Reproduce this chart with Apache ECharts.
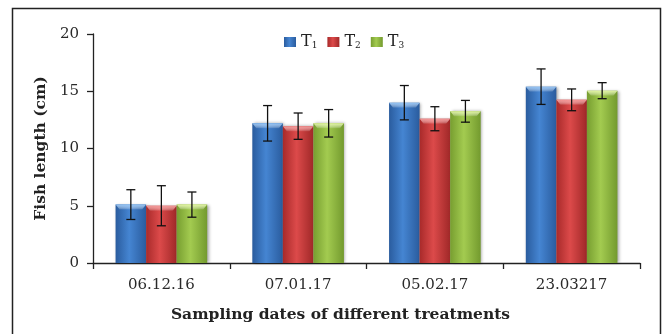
<!DOCTYPE html>
<html><head><meta charset="utf-8">
<script src="https://cdn.jsdelivr.net/npm/echarts@6/dist/echarts.min.js"></script>
<style>html,body{margin:0;padding:0;background:#fff}#c{width:664px;height:334px}</style>
</head><body><div id="c"></div>
<script>
var categories = ['06.12.16', '07.01.17', '05.02.17', '23.03217'];
var seriesNames = ['T1', 'T2', 'T3'];
var t1 = [5.1, 12.2, 14.0, 15.4];
var t2 = [5.0, 11.95, 12.6, 14.25];
var t3 = [5.1, 12.2, 13.25, 15.05];
var t1Err = [1.3, 1.55, 1.5, 1.55];
var t2Err = [1.75, 1.15, 1.05, 0.95];
var t3Err = [1.1, 1.2, 0.95, 0.7];
var yTicks = [0, 5, 10, 15, 20];

var values = [t1, t2, t3];
var errs = [t1Err, t2Err, t3Err];
var colors = [
  ['#2a5c9e', '#4585d2', '#2a5c9e'],
  ['#a82a2a', '#dc4a4a', '#a02828'],
  ['#779e30', '#a3cb50', '#739a2e']
];
var topCols = ['#8cc0f5', '#f59090', '#e0f59a'];
var FONT = 'DejaVu Serif';
function grad(c) {
  return new echarts.graphic.LinearGradient(0, 0, 1, 0, [
    {offset: 0, color: c[0]}, {offset: 0.45, color: c[1]}, {offset: 1, color: c[2]}
  ]);
}
var nBars = 3;
var chart = echarts.init(document.getElementById('c'));
var series = [];
values.forEach(function (v, i) {
  series.push({
    name: seriesNames[i], type: 'bar', data: v,
    barGap: '0%', barCategoryGap: '33%',
    itemStyle: {color: grad(colors[i]), shadowColor: 'rgba(0,0,0,0.35)', shadowBlur: 3, shadowOffsetX: 1.5, shadowOffsetY: 0},
    emphasis: {disabled: true}, z: 2
  });
});
values.forEach(function (v, i) {
  series.push({
    type: 'custom', z: 5, silent: true,
    data: v.map(function (val, j) { return [j, val - errs[i][j], val + errs[i][j], val]; }),
    renderItem: function (params, api) {
      var cat = api.value(0);
      var lo = api.coord([cat, api.value(1)]);
      var hi = api.coord([cat, api.value(2)]);
      var top = api.coord([cat, api.value(3)]);
      var band = api.size([1, 0])[0];
      var groupW = band * (1 - 0.33);
      var bw = groupW / nBars;
      var x = lo[0] - groupW / 2 + bw * (i + 0.5);
      var cap = 4.5;
      var st = {stroke: '#111', lineWidth: 1.3};
      var bx = lo[0] - groupW / 2 + bw * i;
      return {type: 'group', children: [
        {type: 'polygon', shape: {points: [[bx, top[1]], [bx + bw, top[1]], [bx + bw - 4, top[1] + 5], [bx + 4, top[1] + 5]]},
          style: {fill: new echarts.graphic.LinearGradient(0, 0, 0, 1, [{offset: 0, color: topCols[i]}, {offset: 1, color: 'rgba(255,255,255,0.1)'}])}},
        {type: 'line', shape: {x1: x, y1: lo[1], x2: x, y2: hi[1]}, style: st},
        {type: 'line', shape: {x1: x - cap, y1: lo[1], x2: x + cap, y2: lo[1]}, style: st},
        {type: 'line', shape: {x1: x - cap, y1: hi[1], x2: x + cap, y2: hi[1]}, style: st}
      ]};
    }
  });
});

chart.setOption({
  animation: false,
  color: ['#3a78c8', '#d04040', '#9bc14a'],
  graphic: [{type: 'rect', shape: {x: 12.5, y: 8.5, width: 648, height: 340}, style: {fill: 'none', stroke: '#222', lineWidth: 1.5}, z: 10}],
  grid: {left: 93, right: 24, top: 34, bottom: 71},
  legend: {
    top: 29, left: 279, itemWidth: 12, itemHeight: 10, itemGap: 10,
    data: seriesNames.map(function (n, i) {
      return {name: n, icon: 'rect', itemStyle: {color: grad(colors[i])}};
    }),
    formatter: function (n) { return '{a|T}{b|' + n.slice(1) + '}'; },
    textStyle: {rich: {
      a: {fontFamily: FONT, fontSize: 16, color: '#222'},
      b: {fontFamily: FONT, fontSize: 9, color: '#222', verticalAlign: 'bottom', padding: [5, 0, 0, 0]}
    }}
  },
  xAxis: {
    type: 'category', data: categories,
    axisLine: {lineStyle: {color: '#222', width: 1.3}},
    axisTick: {show: true, length: 6, lineStyle: {color: '#222', width: 1.3}},
    axisLabel: {fontFamily: FONT, fontSize: 15, color: '#2a2a2a', margin: 15},
    name: 'Sampling dates of different treatments', nameLocation: 'middle', nameGap: 44,
    nameTextStyle: {fontFamily: FONT, fontSize: 15.5, fontWeight: 'bold', color: '#222', padding: [0, 52, 0, 0]}
  },
  yAxis: {
    type: 'value', min: yTicks[0], max: yTicks[yTicks.length - 1], interval: 5,
    splitLine: {show: false},
    axisLine: {show: true, lineStyle: {color: '#222', width: 1.3}},
    axisTick: {show: true, length: 6, lineStyle: {color: '#222', width: 1.3}},
    axisLabel: {fontFamily: FONT, fontSize: 15, color: '#2a2a2a', margin: 14},
    name: 'Fish length (cm)', nameLocation: 'middle', nameGap: 44,
    nameTextStyle: {fontFamily: FONT, fontSize: 15.5, fontWeight: 'bold', color: '#222'}
  },
  series: series
});
</script></body></html>
